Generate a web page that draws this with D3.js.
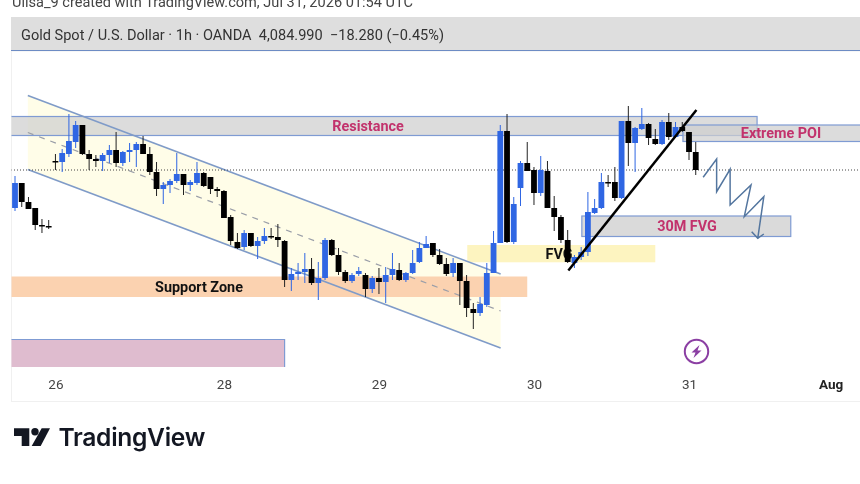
<!DOCTYPE html>
<html><head><meta charset="utf-8">
<script src="https://cdn.jsdelivr.net/npm/d3@7/dist/d3.min.js"></script>
<style>html,body{margin:0;padding:0;background:#fff;overflow:hidden}svg{display:block}text{font-family:"Roboto",sans-serif}</style>
</head><body><svg id="c" width="860" height="484"></svg>
<script>
// Hourly candles (USD)
const opens=[4047,4072,4053,4047,4030,4029,4094,4093,4101,4113,4130,4101,4096,4094,4100,4105,4092,4103,4105,4111,4101,4083,4066,4070,4074,4081,4070,4072,4082,4078,4066,4064,4038,4013,4008,4022,4009,4014,4019,4018,4014,3975,3981,3983,3986,3972,3977,4015,4000,3983,3974,3981,3980,3966,3977,3973,3980,3985,3975,3982,3993,4007,4012,4000,3991,3982,3992,3974,3946,3942,3950,3982,4012,4124,4013,4067,4092,4085,4062,4084,4047,4038,4015,3992,3998,4003,4042,4047,4073,4073,4057,4134,4112,4126,4131,4116,4111,4133,4118,4128,4123,4103];
const highs=[4079,4072,4058,4047,4036,4035,4101,4106,4141,4134,4130,4105,4100,4102,4110,4123,4104,4112,4113,4119,4108,4093,4073,4076,4102,4081,4075,4093,4083,4078,4068,4065,4040,4022,4025,4022,4018,4027,4027,4031,4015,3987,3992,4002,3997,3993,4017,4016,4007,3985,3982,3988,3982,3979,3987,3988,4002,3992,3983,4005,4013,4019,4012,4006,3997,3997,3992,3980,3952,3958,3992,4024,4130,4141,4058,4094,4113,4088,4099,4094,4059,4040,4025,4000,4008,4063,4056,4082,4080,4088,4134,4149,4128,4147,4132,4126,4135,4142,4133,4133,4123,4113];
const lows=[4044,4048,4046,4025,4022,4026,4085,4083,4098,4107,4100,4085,4088,4084,4092,4088,4089,4093,4088,4101,4080,4059,4051,4062,4072,4060,4064,4070,4068,4061,4058,4037,4010,4006,4005,4008,3996,4011,4016,4008,3968,3964,3975,3972,3970,3955,3975,3999,3980,3972,3972,3979,3958,3962,3961,3952,3975,3974,3973,3981,3992,4007,3998,3990,3979,3978,3950,3938,3926,3939,3948,3982,4012,4012,4011,4049,4084,4050,4059,4047,4024,4012,3992,3987,3995,3999,4041,4046,4068,4054,4056,4089,4083,4125,4110,4110,4110,4115,4117,4123,4095,4080];
const closes=[4072,4053,4046,4030,4029,4028,4093,4102,4114,4130,4101,4096,4094,4100,4105,4092,4103,4105,4111,4101,4083,4066,4070,4074,4081,4070,4073,4082,4069,4066,4064,4037,4014,4007,4022,4009,4014,4019,4018,4015,3975,3981,3983,3986,3972,3977,4015,4000,3983,3974,3980,3984,3966,3977,3973,3980,3986,3975,3982,3992,4007,4011,4000,3991,3981,3992,3974,3947,3942,3951,3982,4012,4124,4013,4051,4092,4084,4062,4085,4047,4038,4015,3993,3998,4003,4043,4047,4073,4072,4057,4134,4112,4127,4131,4117,4111,4133,4118,4128,4124,4103,4085];
const dateTicks=[6,31,54,77,100,121];
const dateLabels=["26","28","29","30","31","Aug"];
const lastPrice=4084.99;
// Drawing tools, as [bar, price] anchors
const resistance=[-10,110.1,4138.5,4119.5];
const extremePoi=[99.1,130,4130,4113.5];
const fvg30=[84.1,115.1,4039,4018.5];
const fvgZone=[67.1,95,4010,3992.7];
const supportZone=[-10,76,3978.5,3958];
const pinkZone=[-10,40,3915.5,3888];
const channelTop=[[1.9,4159.5],[72.05,3981]];
const channelMid=[[1.9,4122.5],[72.05,3944]];
const channelLow=[[1.9,4085.5],[72.05,3907]];
const trendLine=[[82.1,3984.5],[101.1,4145]];
const zigzag=[[102.1,4077.7],[104.1,4096],[104.1,4063.3],[106.1,4085.7],[106.1,4050],[109.2,4070],[108.2,4038.3],[111.1,4058.3],[110.2,4016.7]];
const arrowHead=[[109.3,4023.3],[110.2,4016.7],[111.1,4021]];

const svg=d3.select("#c");
const x=d3.scaleLinear().domain([0,101]).range([15,695.74]);
const y=d3.scaleLinear().domain([4203,3883]).range([52,372]);
const blue="#2f66e3",ink="#000",edge="#7f9bd3",rose="#c2326c";
const bars=d3.range(opens.length);
const ln=d3.line().x(d=>x(d[0])).y(d=>y(d[1]));

svg.append("defs").append("clipPath").attr("id","plot").append("rect").attr("x",11.5).attr("y",51).attr("width",849).attr("height",350);

// page furniture
svg.append("text").attr("x",12).attr("y",7).attr("font-size",14.55).attr("fill","#444").text("Ulisa_9 created with TradingView.com, Jul 31, 2026 01:54 UTC");
svg.append("rect").attr("x",11.5).attr("y",51).attr("width",849).attr("height",350.5).attr("fill","#fff").attr("stroke","#f0f0f0");
svg.append("rect").attr("x",11).attr("y",17).attr("width",849).attr("height",33).attr("fill","#dedede");
svg.append("line").attr("x1",11).attr("x2",860).attr("y1",50.5).attr("y2",50.5).attr("stroke","#6d8cc4").attr("stroke-width",1);
svg.append("text").attr("x",21).attr("y",40).attr("font-size",14.55).attr("fill","#333").attr("xml:space","preserve").style("white-space","pre").text("Gold Spot / U.S. Dollar · 1h · OANDA  4,084.990  −18.280 (−0.45%)");

const g=svg.append("g").attr("clip-path","url(#plot)");
function zone(z,fill,stroke,op){
  const r=g.append("rect").attr("x",x(z[0])).attr("width",x(z[1])-x(z[0])).attr("y",y(z[2])).attr("height",y(z[3])-y(z[2])).attr("fill",fill).attr("fill-opacity",op==null?1:op);
  if(stroke) r.attr("stroke",stroke).attr("stroke-width",1.2);
  return r;
}
// channel
g.append("path").attr("d",ln([channelTop[0],channelTop[1],channelLow[1],channelLow[0]])+"Z").attr("fill","#fffde8");
zone(supportZone,"#fbd2b0",null);
zone(fvgZone,"#fdf4c0",null);
zone(pinkZone,"#dfbccf",null);
g.append("path").attr("d",`M${x(pinkZone[0])},${y(pinkZone[2])}H${x(pinkZone[1])}V${y(pinkZone[3])}`).attr("fill","none").attr("stroke",edge).attr("stroke-width",1.2);
zone(resistance,"#cfcfcf",edge,.72);
zone(extremePoi,"#cfcfcf",edge,.72);
zone(fvg30,"#d8d8d8",edge,.95);
[channelTop,channelLow].forEach(c=>g.append("path").attr("d",ln(c)).attr("fill","none").attr("stroke","#7f9bc8").attr("stroke-width",1.5));
g.append("path").attr("d",ln(channelMid)).attr("fill","none").attr("stroke","#9a9ea8").attr("stroke-width",1.2).attr("stroke-dasharray","6 6");

// last price
g.append("line").attr("x1",11).attr("x2",860).attr("y1",y(lastPrice)).attr("y2",y(lastPrice)).attr("stroke","#444").attr("stroke-width",1).attr("stroke-dasharray","1 2");

// labels beneath candles
const bold=(t,cx,cy,c,s)=>g.append("text").attr("x",cx).attr("y",cy).attr("text-anchor","middle").attr("dominant-baseline","central").attr("font-size",s||14.4).attr("font-weight",700).attr("fill",c).text(t);
bold("Resistance",368,126,rose);
bold("Extreme POI",781,133,rose);
bold("30M FVG",687,226,rose);
bold("FVG",559,254,"#111",14.4);
bold("Support Zone",199,287,"#111");

// candles
const cw=5.8;
const c=g.append("g").selectAll("g").data(bars).join("g");
c.append("line").attr("x1",i=>x(i)).attr("x2",i=>x(i)).attr("y1",i=>y(highs[i])).attr("y2",i=>y(lows[i])).attr("stroke",i=>closes[i]>=opens[i]?blue:"#222").attr("stroke-width",1);
c.append("rect").attr("x",i=>x(i)-cw/2).attr("width",cw).attr("y",i=>y(Math.max(opens[i],closes[i]))).attr("height",i=>Math.max(1.5,Math.abs(y(opens[i])-y(closes[i])))).attr("fill",i=>closes[i]>=opens[i]?blue:ink);

// trend + projection
g.append("path").attr("d",ln(trendLine)).attr("fill","none").attr("stroke","#000").attr("stroke-width",2.5);
g.append("path").attr("d",ln(zigzag)).attr("fill","none").attr("stroke","#54769f").attr("stroke-width",1.5);
g.append("path").attr("d",ln(arrowHead)).attr("fill","none").attr("stroke","#54769f").attr("stroke-width",1.5);

// axis
const axis=d3.axisBottom(x).tickValues(dateTicks).tickFormat((d,i)=>dateLabels[i]).tickSize(0).tickPadding(0);
const ax=svg.append("g").attr("transform","translate(0,379)").call(axis);
ax.select(".domain").remove();
ax.selectAll("text").attr("font-size",13.5).attr("fill","#444").style("font-family","Roboto,sans-serif");
ax.selectAll("text").filter((d,i)=>dateLabels[i]==="Aug").attr("font-weight",700).attr("fill","#222");

// lightning badge
const b=svg.append("g").attr("transform","translate(696.5,351.5)");
b.append("circle").attr("r",11.7).attr("fill","#fff").attr("stroke","#8b3fa3").attr("stroke-width",2);
b.append("path").attr("d","M3,-6.5 L-5,1 L-1,1 L-3,6.5 L5,-1 L1,-1 Z").attr("fill","#8b3fa3");

// logo
const l=svg.append("g").attr("fill","#131722");
l.append("path").attr("d","M14,428.3H29.3V446H21.7V436H14Z");
l.append("circle").attr("cx",35).attr("cy",431.8).attr("r",3.7);
l.append("path").attr("d","M41.7,428.3H50L40.7,446H31.7Z");
l.append("text").attr("x",58.5).attr("y",446).attr("font-size",24.6).attr("font-weight",600).style("font-family","Inter,sans-serif").attr("letter-spacing","-0.3").text("TradingView");
svg.style("filter","blur(0.35px)");
</script></body></html>
